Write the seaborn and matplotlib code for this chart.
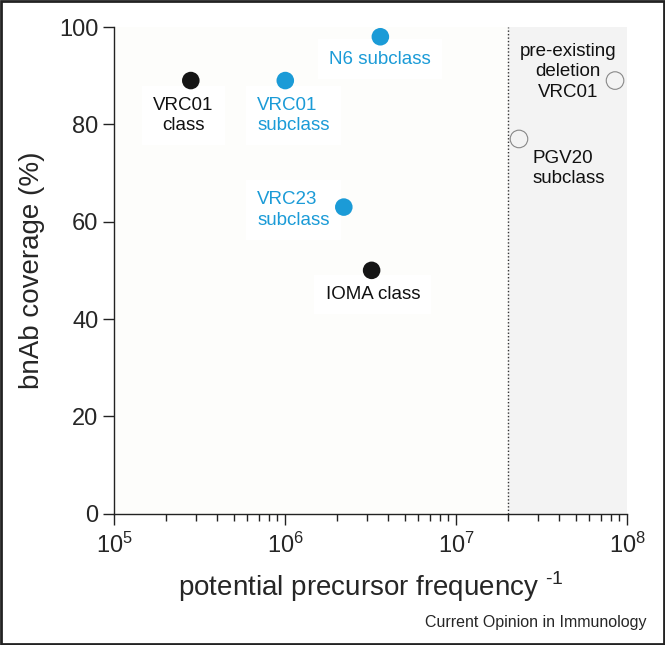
import matplotlib
matplotlib.use("Agg")
import matplotlib.pyplot as plt
import seaborn as sns
import pandas as pd
from matplotlib.patches import Rectangle
from matplotlib.ticker import LogLocator

# data
names = ["VRC01 class", "VRC01 subclass", "N6 subclass", "VRC23 subclass",
         "IOMA class", "PGV20 subclass", "pre-existing deletion VRC01"]
freq_inv = [2.8e5, 1.0e6, 3.6e6, 2.2e6, 3.2e6, 2.33e7, 8.5e7]
coverage = [89, 89, 98, 63, 50, 77, 89]
kind = ["class", "subclass", "subclass", "subclass", "class", "open", "open"]
cutoff = 2e7

labels = ["VRC01\nclass", "VRC01\nsubclass", "N6 subclass", "VRC23\nsubclass",
          "IOMA class", "PGV20\nsubclass", "pre-existing\ndeletion\nVRC01"]
label_x = [2.53e5, 6.85e5, 3.6e6, 6.85e5, 3.25e6, 2.8e7, 4.5e7]
label_y = [81.8, 81.8, 93.4, 62.4, 45.0, 71.0, 90.8]
label_ha = ["center", "left", "center", "left", "center", "left", "center"]

BLUE = "#1b9bd7"
df = pd.DataFrame({"name": names, "x": freq_inv, "y": coverage, "kind": kind})

sns.set_theme(style="ticks")
plt.rcParams["font.family"] = ["Liberation Sans", "DejaVu Sans"]
plt.rcParams["mathtext.fontset"] = "custom"
plt.rcParams["mathtext.rm"] = "Liberation Sans"

fig = plt.figure(figsize=(6.65, 6.45), dpi=100)
ax = fig.add_axes([0.172, 0.2036, 0.771, 0.7545])
ax.set_facecolor("#fdfdfb")

ax.set_xscale("log")
ax.set_xlim(1e5, 1e8)
ax.set_ylim(0, 100)

# shaded region beyond the cutoff
ax.axvspan(cutoff, 1e8, color="#f3f3f3", zorder=0)
ax.axvline(cutoff, color="#333333", lw=1, ls=(0, (1, 1.5)), zorder=1)

pal = {"class": "#151515", "subclass": BLUE, "open": "none"}
filled = df[df["kind"] != "open"]
sns.scatterplot(data=filled, x="x", y="y", hue="kind", palette=pal, s=160,
                edgecolor="none", legend=False, ax=ax, zorder=4)
opened = df[df["kind"] == "open"]
sns.scatterplot(data=opened, x="x", y="y", s=160, facecolor="none",
                edgecolor="#888888", linewidth=0.8, legend=False, ax=ax, zorder=4)

for lab, lx, ly, ha, k in zip(labels, label_x, label_y, label_ha, kind):
    col = BLUE if k == "subclass" else "#111111"
    box = None if k == "open" else dict(boxstyle="square,pad=0.6", fc="white", ec="none")
    ax.text(lx, ly, lab, ha=ha, va="center", fontsize=13.5, color=col,
            linespacing=1.25, zorder=3, bbox=box)

ax.set_xlabel(r"potential precursor frequency $^{\text{-1}}$", fontsize=20, labelpad=8)
ax.set_ylabel("bnAb coverage (%)", fontsize=20, labelpad=10)
ax.set_yticks([0, 20, 40, 60, 80, 100])
ax.xaxis.set_major_locator(LogLocator(base=10, numticks=10))
ax.xaxis.set_minor_locator(LogLocator(base=10, subs=range(2, 10), numticks=20))
ax.tick_params(axis="both", which="major", labelsize=17, length=8, width=1, color="#222222")
ax.tick_params(axis="x", which="minor", length=5, width=1, color="#222222")
ax.tick_params(axis="x", pad=6)
sns.despine(ax=ax)
for sp in ["left", "bottom"]:
    ax.spines[sp].set_linewidth(1)
    ax.spines[sp].set_color("#222222")

fig.text(0.972, 0.035, "Current Opinion in Immunology", ha="right", va="center", fontsize=11.5)
fig.patches.append(Rectangle((0.002, 0.002), 0.996, 0.996, transform=fig.transFigure,
                             fill=False, ec="#222222", lw=2))

fig.savefig("out.png", dpi=100)
